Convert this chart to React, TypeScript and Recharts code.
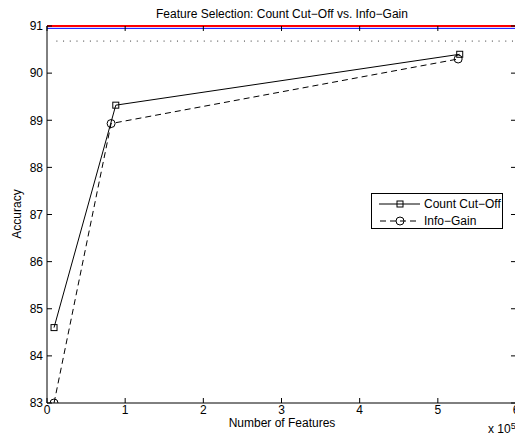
import React from 'react'
import {
  ComposedChart,
  Line,
  XAxis,
  YAxis,
  ReferenceLine,
} from 'recharts'

// feature counts are in units of 10^5
const countCutOffX = [0.09, 0.88, 5.28]
const countCutOffY = [84.6, 89.32, 90.4]
const infoGainX = [0.09, 0.82, 5.26]
const infoGainY = [83.0, 88.93, 90.3]
const baselineY = 90.68
const baselineStartX = 0.12

const xTicks = [0, 1, 2, 3, 4, 5, 6]
const yTicks = [83, 84, 85, 86, 87, 88, 89, 90, 91]
const X_MAX = 6
const Y_MAX = 91

const countData = countCutOffX.map((x, i) => ({ x, y: countCutOffY[i] }))
const infoData = infoGainX.map((x, i) => ({ x, y: infoGainY[i] }))

const FONT = '"Liberation Sans", Arial, Helvetica, sans-serif'
const tickStyle = { fontSize: 12, fill: '#000', fontFamily: FONT }

const SquareDot = (props: any) => {
  const { cx, cy, index } = props
  if (cx == null || cy == null) return null
  return (
    <rect key={`sq-${index}`} x={cx - 3} y={cy - 3} width={6} height={6} fill="none" stroke="#000" strokeWidth={1} />
  )
}

const LegendBox = () => (
  <div
    style={{
      position: 'absolute',
      left: 371,
      top: 193,
      border: '1px solid #000',
      background: '#fff',
      width: 130,
      height: 34,
      fontFamily: FONT,
      fontSize: 12,
    }}
  >
    <svg width={130} height={34} style={{ display: 'block' }}>
      <line x1={7} x2={48} y1={10} y2={10} stroke="#000" />
      <rect x={25} y={7} width={6} height={6} fill="none" stroke="#000" />
      <text x={52} y={14} fontSize={12} fontFamily={FONT}>Count Cut−Off</text>
      <line x1={7} x2={48} y1={27} y2={27} stroke="#000" strokeDasharray="6 4" strokeDashoffset={-1} />
      <circle cx={28} cy={27} r={4} fill="none" stroke="#000" />
      <text x={52} y={31} fontSize={12} fontFamily={FONT}>Info−Gain</text>
    </svg>
  </div>
)

// frame drawn as dashless "dotted" style lines so they share the code path that works
const FrameLine = (props: any) => (
  <ReferenceLine {...props} stroke="#000" strokeWidth={1} strokeDasharray="1000 0" ifOverflow="visible" />
)

export default function App() {
  return (
    <div
      style={{
        position: 'fixed',
        left: 0,
        top: 0,
        width: 515,
        height: 436,
        overflow: 'hidden',
        background: '#fff',
        fontFamily: FONT,
      }}
    >
      <div style={{ position: 'absolute', left: 0, top: 0 }}>
        <ComposedChart width={540} height={436} margin={{ top: 26, right: 24, bottom: 0, left: 0 }}>
          <XAxis
            dataKey="x"
            type="number"
            domain={[0, X_MAX]}
            ticks={xTicks}
            height={33}
            stroke="#000"
            tickSize={-5}
            tickMargin={7}
            tick={tickStyle}
            allowDataOverflow
          />
          <YAxis
            type="number"
            domain={[83, Y_MAX]}
            ticks={yTicks}
            width={47}
            stroke="#000"
            tickSize={-5}
            tickMargin={9}
            tick={tickStyle}
            allowDataOverflow
          />
          <ReferenceLine
            segment={[
              { x: 0, y: Y_MAX - 0.0001 },
              { x: X_MAX, y: Y_MAX - 0.0001 },
            ]}
            stroke="red"
            strokeWidth={2}
            ifOverflow="visible"
          />
          <ReferenceLine
            segment={[
              { x: 0, y: 90.95 },
              { x: X_MAX, y: 90.95 },
            ]}
            stroke="blue"
            strokeWidth={1}
          />
          {xTicks.map((t) => (
            <FrameLine
              key={`tt-${t}`}
              segment={[
                { x: t, y: Y_MAX },
                { x: t, y: Y_MAX - 0.106 },
              ]}
            />
          ))}
          {yTicks.map((t) => (
            <FrameLine
              key={`rt-${t}`}
              segment={[
                { x: X_MAX - 0.064, y: t },
                { x: X_MAX, y: t },
              ]}
            />
          ))}
          <ReferenceLine
            segment={[
              { x: baselineStartX, y: baselineY },
              { x: X_MAX, y: baselineY },
            ]}
            stroke="#333"
            strokeDasharray="1 5.7"
            ifOverflow="visible"
          />
          <Line
            data={countData}
            dataKey="y"
            type="linear"
            stroke="#000"
            strokeWidth={1}
            dot={SquareDot}
            activeDot={false}
            isAnimationActive={false}
          />
          <Line
            data={infoData}
            dataKey="y"
            type="linear"
            stroke="#000"
            strokeWidth={1}
            strokeDasharray="6 4"
            dot={{ r: 4, fill: 'none', stroke: '#000', strokeWidth: 1, strokeDasharray: '' }}
            activeDot={false}
            isAnimationActive={false}
          />
        </ComposedChart>
      </div>
      <LegendBox />
      <div
        style={{
          position: 'absolute',
          left: 82,
          width: 400,
          top: 7,
          textAlign: 'center',
          fontSize: 12,
          lineHeight: '14px',
        }}
      >
        Feature Selection: Count Cut−Off vs. Info−Gain
      </div>
      <div
        style={{
          position: 'absolute',
          left: 182,
          width: 200,
          top: 416,
          textAlign: 'center',
          fontSize: 12,
          lineHeight: '14px',
        }}
      >
        Number of Features
      </div>
      <div
        style={{
          position: 'absolute',
          left: 488,
          top: 422,
          fontSize: 12,
          lineHeight: '14px',
          whiteSpace: 'nowrap',
        }}
      >
        x 10<sup style={{ fontSize: 9, verticalAlign: 'top', position: 'relative', top: -3 }}>5</sup>
      </div>
      <div
        style={{
          position: 'absolute',
          left: 17,
          top: 214,
          fontSize: 12,
          lineHeight: '14px',
          whiteSpace: 'nowrap',
          transform: 'translate(-50%, -50%) rotate(-90deg)',
        }}
      >
        Accuracy
      </div>
    </div>
  )
}
